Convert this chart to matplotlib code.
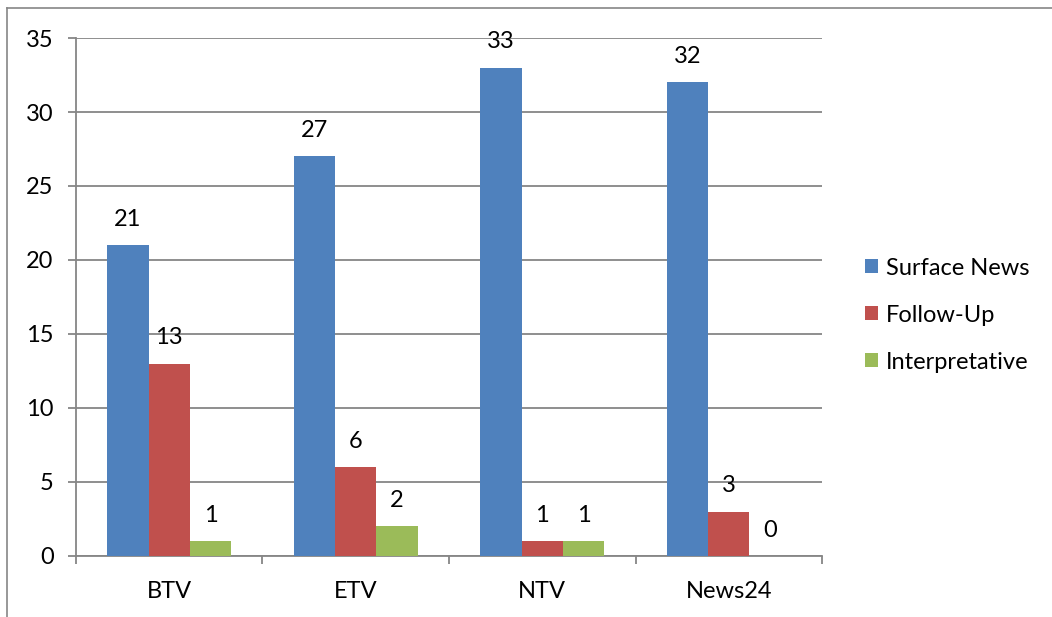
import numpy as np
import matplotlib
matplotlib.use("Agg")
import matplotlib.pyplot as plt
from matplotlib.lines import Line2D

plt.rcParams['font.family'] = ['Lato', 'DejaVu Sans']

channels = ["BTV", "ETV", "NTV", "News24"]
series_names = ["Surface News", "Follow-Up", "Interpretative"]
surface_news = [21, 27, 33, 32]
follow_up = [13, 6, 1, 3]
interpretative = [1, 2, 1, 0]
colors = ["#4f81bd", "#c0504d", "#9bbb59"]

fig = plt.figure(figsize=(10.52, 6.17), dpi=100)
ax = fig.add_axes([0.0722, 0.0989, 0.7092, 0.8395])

x = np.arange(len(channels))
w = 0.222
for k, (vals, name, col) in enumerate(zip([surface_news, follow_up, interpretative], series_names, colors)):
    bars = ax.bar(x + (k - 1) * w, vals, w, color=col, label=name, zorder=3)
    for b, v in zip(bars, vals):
        ax.annotate(str(v), (b.get_x() + b.get_width() / 2, v), xytext=(0, 11),
                    textcoords="offset points", ha="center", va="bottom", fontsize=17)

ax.set_xlim(-0.5, len(channels) - 0.5)
ax.set_ylim(0, 35)
ax.set_yticks(np.arange(0, 36, 5))
ax.yaxis.grid(True, color="#868686", linewidth=1.3, zorder=0)
ax.set_xticks(x)
ax.set_xticklabels(channels, fontsize=17)
ax.set_xticks(np.arange(-0.5, len(channels), 1), minor=True)
ax.tick_params(axis="x", which="major", length=0, pad=18)
ax.tick_params(axis="x", which="minor", length=6, width=1.3, color="#868686")
ax.tick_params(axis="y", length=6, width=1.3, color="#868686", labelsize=17, pad=10)

for s in ["top", "right"]:
    ax.spines[s].set_visible(False)
for s in ["left", "bottom"]:
    ax.spines[s].set_color("#868686")
    ax.spines[s].set_linewidth(1.3)

ax.legend(loc="center left", bbox_to_anchor=(1.045, 0.465), frameon=False, fontsize=17,
          handlelength=0.55, handleheight=0.55, handletextpad=0.35, labelspacing=1.1,
          borderaxespad=0)

# outer chart border (only left and top visible)
fig.add_artist(Line2D([7 / 1052, 7 / 1052], [0, 1 - 8 / 617], color="#868686", lw=1.2))
fig.add_artist(Line2D([7 / 1052, 1], [1 - 8 / 617, 1 - 8 / 617], color="#868686", lw=1.2))

fig.savefig("out.png", dpi=100)
